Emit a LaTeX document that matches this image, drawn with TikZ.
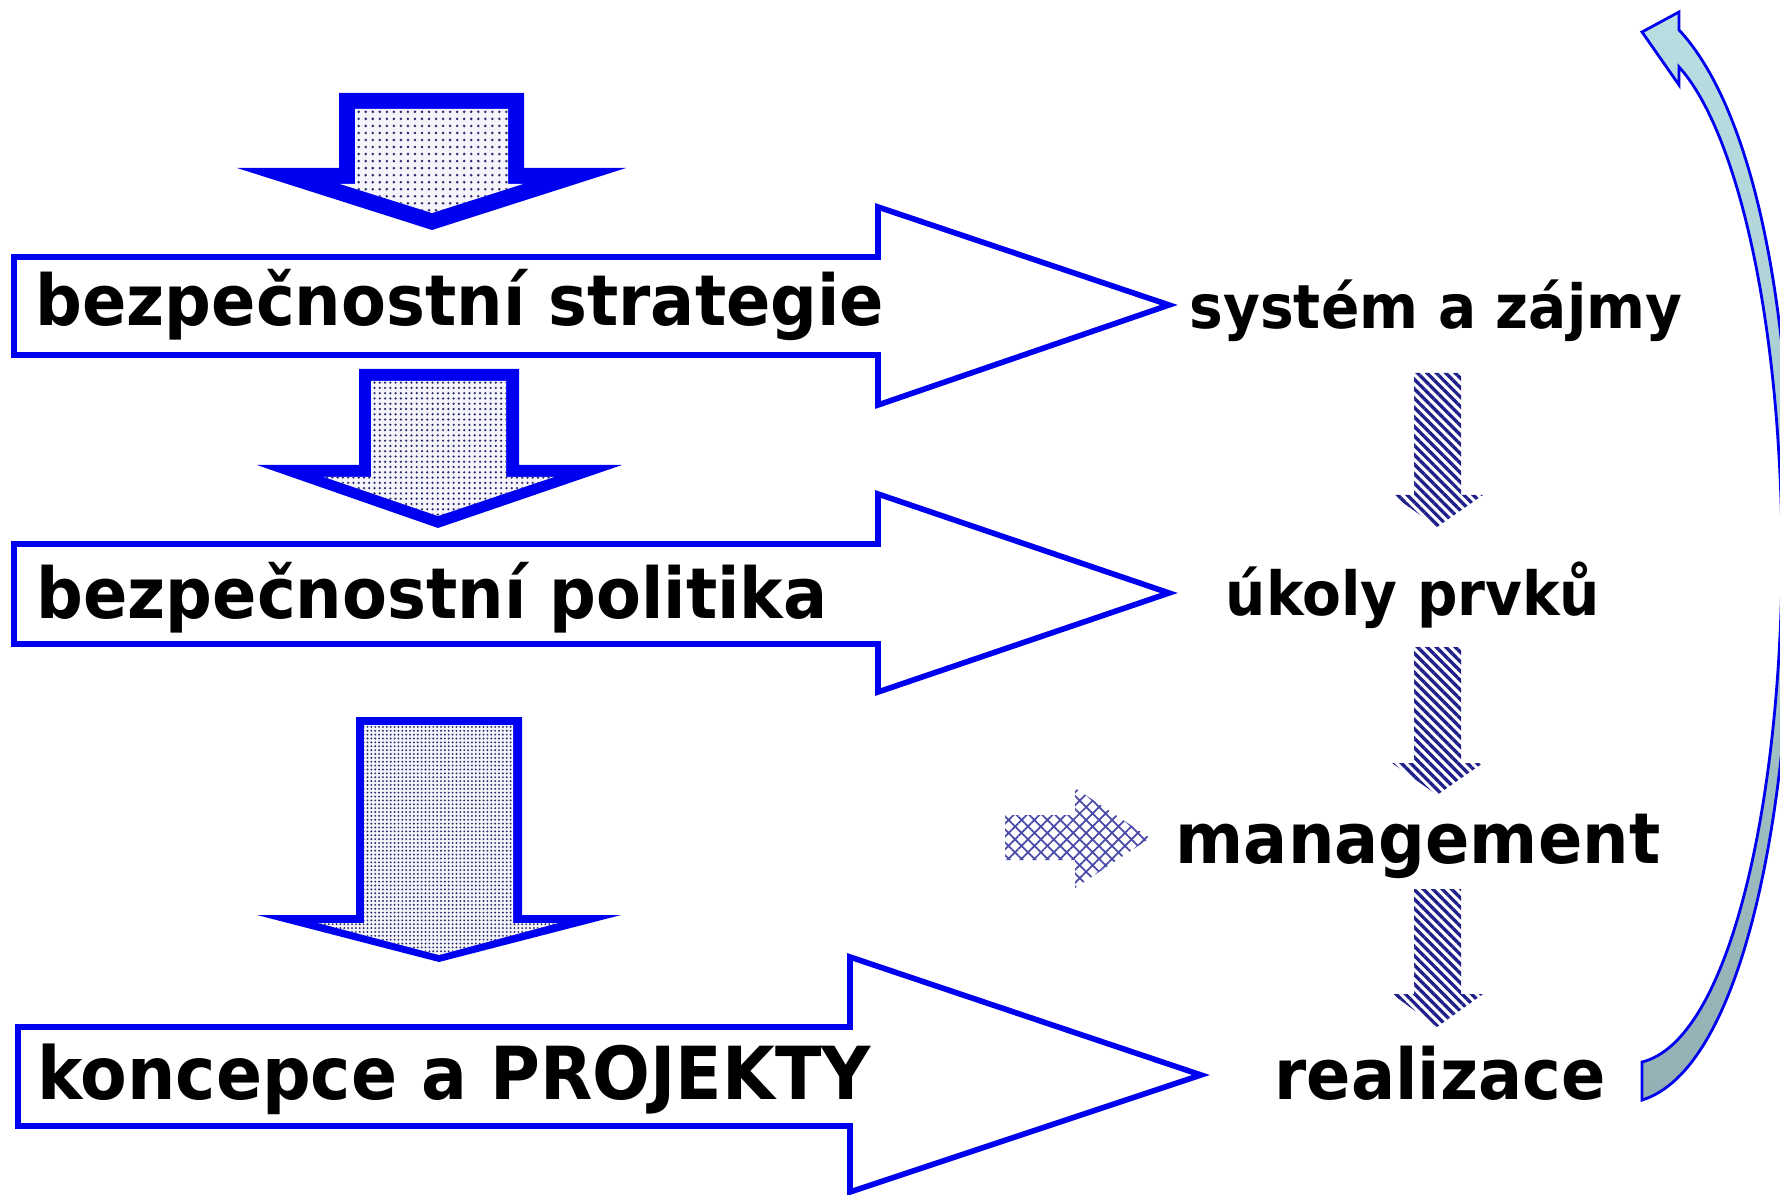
\documentclass[tikz,border=0pt]{standalone}
\usepackage{fontspec}
\newfontfamily\labelfont{DejaVu Sans}[FakeStretch=0.93]
\usetikzlibrary{patterns.meta}
\definecolor{arrowblue}{HTML}{0000F0}
\definecolor{dotfill}{HTML}{F4F4FA}
\definecolor{dotink}{HTML}{2A2A70}
\definecolor{stripefill}{HTML}{E4E4F8}
\definecolor{stripeink}{HTML}{20208A}
\definecolor{crossink}{HTML}{4A4AA8}
\definecolor{bendtop}{HTML}{B9DFE3}
\definecolor{bendbottom}{HTML}{93B0B4}
\tikzset{
  bigtext/.style={font=\labelfont\bfseries\fontsize{20}{24}\selectfont, anchor=base, inner sep=0pt},
  smalltext/.style={font=\labelfont\bfseries\fontsize{17.3}{21}\selectfont, anchor=base, inner sep=0pt},
  outline/.style={draw=arrowblue, line width=1.6pt, fill=white, line join=miter},
  stripes/.style={fill=stripefill, pattern={Lines[angle=-45, distance=1.9pt, line width=0.95pt]}, pattern color=stripeink},
}
\begin{document}
\begin{tikzpicture}[x=0.01cm, y=-0.01cm]
  \useasboundingbox (0,0) rectangle (1780,1195);
  \clip (0,0) rectangle (1780,1195);

  % Thick blue down arrows.
  \fill[arrowblue] (339,93) -- (524,93) -- (524,168) -- (626,168) -- (432,230) -- (237,168) -- (339,168) -- cycle;
  \fill[dotfill] (355,109) -- (508,109) -- (508,184) -- (523,184) -- (432,213) -- (340,184) -- (355,184) -- cycle;
  \fill[pattern={Dots[distance=2pt, radius=0.4pt]}, pattern color=dotink] (355,109) -- (508,109) -- (508,184) -- (523,184) -- (432,213) -- (340,184) -- (355,184) -- cycle;

  \fill[arrowblue] (359,369) -- (519,369) -- (519,465) -- (622,465) -- (438,528) -- (257,465) -- (359,465) -- cycle;
  \fill[dotfill] (371,381) -- (506,381) -- (506,477) -- (554,477) -- (438,516) -- (324,477) -- (371,477) -- cycle;
  \fill[pattern={Dots[distance=1.5pt, radius=0.35pt]}, pattern color=dotink] (371,381) -- (506,381) -- (506,477) -- (554,477) -- (438,516) -- (324,477) -- (371,477) -- cycle;

  \fill[arrowblue] (356,717) -- (522,717) -- (522,915) -- (621,915) -- (439,962) -- (257,915) -- (356,915) -- cycle;
  \fill[dotfill] (364,725) -- (513,725) -- (513,923) -- (558,923) -- (439,955) -- (318,923) -- (364,923) -- cycle;
  \fill[pattern={Dots[distance=1.1pt, radius=0.3pt]}, pattern color=dotink] (364,725) -- (513,725) -- (513,923) -- (558,923) -- (439,955) -- (318,923) -- (364,923) -- cycle;

  % Outline arrows to the right.
  \draw[outline] (14,257) -- (878,257) -- (878,207) -- (1169,305) -- (878,405) -- (878,355) -- (14,355) -- cycle;
  \draw[outline] (14,544) -- (878,544) -- (878,494) -- (1169,593) -- (878,692) -- (878,644) -- (14,644) -- cycle;
  \draw[outline] (18,1027) -- (850,1027) -- (850,957) -- (1201,1075) -- (850,1192) -- (850,1126) -- (18,1126) -- cycle;

  \node[bigtext] (strategie) at (460,326) {bezpečnostní strategie};
  \node[bigtext] (politika) at (432,619) {bezpečnostní politika};
  \node[bigtext, font=\labelfont\bfseries\fontsize{20.8}{25}\selectfont] (koncepce) at (454,1099) {koncepce a PROJEKTY};

  \node[smalltext] (system) at (1436,329) {systém a zájmy};
  \node[smalltext] (ukoly) at (1413,616) {úkoly prvků};
  \node[bigtext] (management) at (1418,863) {management};
  \node[bigtext] (realizace) at (1440,1099) {realizace};

  % Striped down arrows.
  \foreach \t/\w/\p in {373/495/527, 647/763/795, 889/994/1027}
    \fill[stripes] (1414,\t) -- (1461,\t) -- (1461,\w) -- (1483,\w) -- (1437,\p) -- (1392,\w) -- (1414,\w) -- cycle;

  % Cross-hatched arrow.
  \fill[fill=dotfill, pattern={Hatch[angle=45, distance=2.6pt, line width=0.5pt]}, pattern color=crossink]
    (1005,815) -- (1075,815) -- (1075,788) -- (1150,838) -- (1075,888) -- (1075,860) -- (1005,860) -- cycle;

  % Bent arrow back to the top.
  \draw[draw=arrowblue, line width=0.8pt, top color=bendtop, bottom color=bendbottom]
    (1642,1100) .. controls (1740,1070) and (1792,820) .. (1792,550)
    .. controls (1792,260) and (1740,95) .. (1679,30)
    -- (1679,12) -- (1642,32) -- (1679,85) -- (1679,67)
    .. controls (1732,125) and (1780,300) .. (1782,550)
    .. controls (1782,800) and (1730,1040) .. (1642,1062) -- cycle;
\end{tikzpicture}
\end{document}
